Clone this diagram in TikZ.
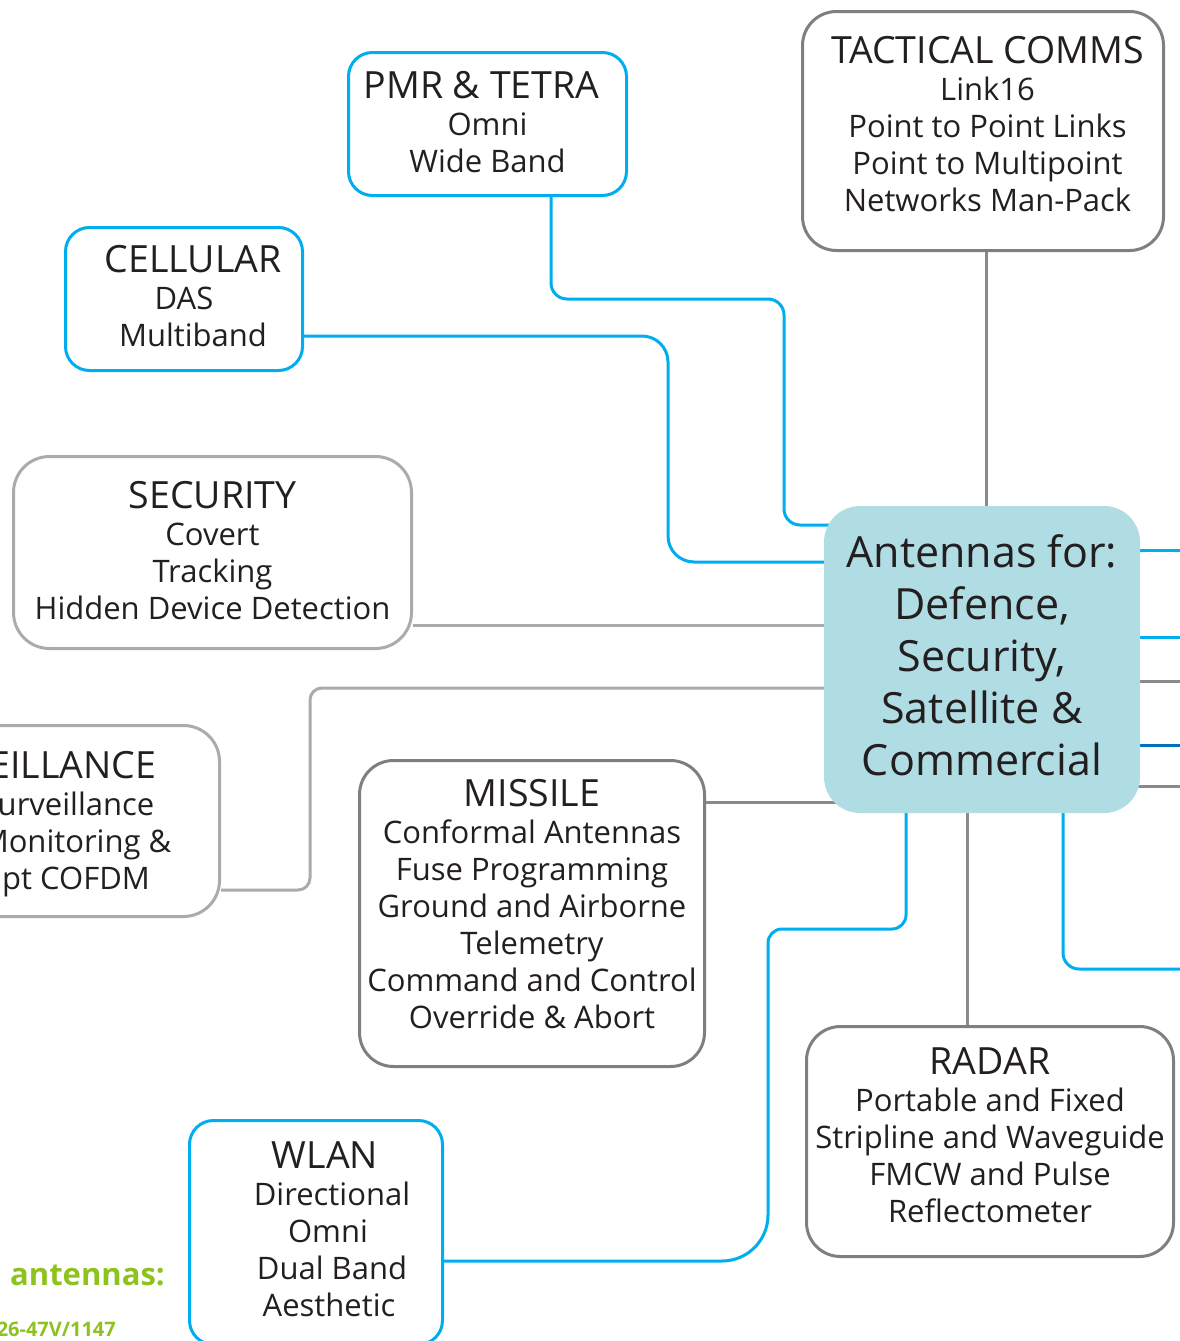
\documentclass[tikz,border=0pt]{standalone}
\usepackage{fontspec}
\setmainfont{Open Sans}
\usetikzlibrary{calc,backgrounds}
\definecolor{cyanl}{HTML}{00AEEF}
\definecolor{dblue}{HTML}{0072BC}
\definecolor{gline}{HTML}{8A8A8A}
\definecolor{lgline}{HTML}{ABABAB}
\definecolor{gbox}{HTML}{7F7F7F}
\definecolor{lgbox}{HTML}{ABABAB}
\definecolor{hubfill}{HTML}{B0DDE4}
\definecolor{txt}{HTML}{231F20}
\definecolor{grn}{HTML}{8DC21F}
\newcommand\ttl{\fontsize{37.5}{37}\selectfont}
\newcommand\myd[1]{\rule[-#1pt]{0pt}{#1pt}}
\newcommand\myh[1]{\rule{0pt}{#1pt}}
\newcommand\mys[1]{\hspace*{#1pt}}
\begin{document}
\begin{tikzpicture}[x=1pt,y=-1pt,
  boxbase/.style={draw, line width=3pt, fill=white, align=center, text=txt,
    font=\fontsize{31}{37}\selectfont, inner sep=0pt},
  bluebox/.style={boxbase, draw=cyanl, rounded corners=24},
  graybox/.style={boxbase, draw=gbox, rounded corners=34},
  lgraybox/.style={boxbase, draw=lgbox, rounded corners=36},
  hubbox/.style={fill=hubfill, rounded corners=36, align=center, text=txt,
    font=\fontsize{43}{52}\selectfont, inner sep=0pt},
  cyl/.style={draw=cyanl, line width=3pt},
  dbl/.style={draw=dblue, line width=3pt},
  gyl/.style={draw=gline, line width=3pt},
  lgl/.style={draw=lgline, line width=3pt},
  grnlab/.style={text=grn, inner sep=0pt}
]
\useasboundingbox (0,0) rectangle (1179,1341);

% hub
\node[hubbox, minimum width=316, minimum height=307] (hub) at (982,659.5)
  {Antennas for:\\ Defence,\\ Security,\\ Satellite \&\\ Commercial\myd{8}};

% boxes
\node[bluebox, minimum width=278, minimum height=143] (pmr) at (487.5,124)
  {{\ttl PMR \& TETRA}\mys{12}\\ Omni\\ Wide Band\myd{4}};
\node[graybox, minimum width=361, minimum height=239] (tac) at (983,131)
  {\mys{9}{\ttl TACTICAL COMMS}\\ \mys{9}Link16\\ \mys{9}Point to Point Links\\ \mys{9}Point to Multipoint\\ \mys{9}Networks Man-Pack\myd{14}};
\node[bluebox, minimum width=237, minimum height=143] (cell) at (184,299)
  {\mys{18}{\ttl CELLULAR}\\ DAS\\ \mys{18}Multiband\myd{6}};
\node[lgraybox, minimum width=398, minimum height=192] (sec) at (212.5,552.5)
  {{\ttl SECURITY}\\ Covert\\ Tracking\\ Hidden Device Detection\myd{4}};
\node[lgraybox, minimum width=287, minimum height=191] (surv) at (76,821)
  {\myh{33}{\ttl EILLANCE}\mys{6}\\ urveillance\\ Monitoring \&\\ pt COFDM};
\node[graybox, minimum width=345, minimum height=306] (mis) at (532,913.5)
  {{\ttl MISSILE}\\ Conformal Antennas\\ Fuse Programming\\ Ground and Airborne\\ Telemetry\\ Command and Control\\ Override \& Abort\myd{20}};
\node[graybox, minimum width=367, minimum height=230] (radar) at (990,1141.5)
  {{\ttl RADAR}\\ Portable and Fixed\\ Stripline and Waveguide\\ FMCW and Pulse\\ Reflectometer\myd{12}};
\node[bluebox, minimum width=253, minimum height=224] (wlan) at (316,1232.5)
  {\mys{18}{\ttl WLAN}\\ \mys{32}Directional\\ \mys{24}Omni\\ \mys{32}Dual Band\\ \mys{26}Aesthetic\myd{6}};

% green labels
\node[grnlab, anchor=base west, font=\bfseries\fontsize{31}{31}\selectfont] (lab1) at (10,1285) {antennas:};
\node[grnlab, anchor=base east, font=\bfseries\fontsize{20}{20}\selectfont] (lab2) at (116,1336) {26-47V/1147};

% free ends on the right
\coordinate (r1) at (1192,550);
\coordinate (r2) at (1192,637);
\coordinate (r3) at (1192,681);
\coordinate (r4) at (1192,745);
\coordinate (r5) at (1192,786);
\coordinate (r6) at (1192,969);

\begin{scope}[on background layer]
\draw[cyl, rounded corners=16] ([xshift=63.5pt]pmr.south) |- (784,299) |- (hub.center |- 0,525);
\draw[cyl, rounded corners=26] (cell.east |- 0,336) -| (668,562) -- (hub.center |- 0,562);
\draw[gyl] ([xshift=3pt]tac.south) -- ([xshift=3pt]tac.south |- hub.center);
\draw[lgl] (sec.east |- 0,625) -- (hub.center |- 0,625);
\draw[lgl, rounded corners=12] (surv.east |- 0,890) -| (310,688) -- (hub.center |- 0,688);
\draw[gyl] (mis.east |- 0,802) -- (hub.center |- 0,802);
\draw[cyl] (wlan.east |- 0,1261) [rounded corners=46] -| (768,1100) [rounded corners=14] |- (906,929) -- (hub.center -| 906,0);
\draw[gyl] (radar.north -| 967,0) -- (hub.center -| 967,0);
\draw[cyl] (hub.center |- r1) -- (r1);
\draw[cyl] (hub.center |- r2) -- (r2);
\draw[gyl] (hub.center |- r3) -- (r3);
\draw[dbl] (hub.center |- r4) -- (r4);
\draw[gyl] (hub.center |- r5) -- (r5);
\draw[cyl, rounded corners=16] (hub.center -| 1063,0) |- (r6);
\end{scope}
\end{tikzpicture}
\end{document}
